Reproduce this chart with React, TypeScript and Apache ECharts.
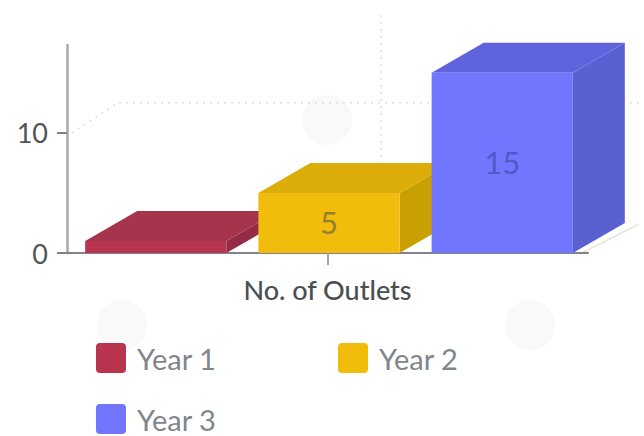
import React, { useEffect, useRef } from "react";
import * as echarts from "echarts";

const categories = ["No. of Outlets"];
const seriesNames = ["Year 1", "Year 2", "Year 3"];
const year1 = [1];
const year2 = [5];
const year3 = [15];
const seriesValues = [year1, year2, year3];
const yTicks = [0, 10];
const wallLevels = [10];

const frontColors = ["#b9354f", "#f2bc0c", "#7276ff"];
const topColors = ["#a6344d", "#dcac08", "#5f63dc"];
const sideColors = ["#952a44", "#c9a004", "#5a5fd2"];
const labelColors = ["#6d3040", "#97802f", "#5558c4"];

const DEPTH_X = 52;
const DEPTH_Y = -30;
const BAR_FRACTION = 0.271;
const STEP_FRACTION = 0.3325;
const AXIS_MAX = 17.3;

// Extruded bar: front face plus top and side planes, offset by the floor depth.
const boxRenderer = (index: number, showLabel: boolean) => (params: any, api: any) => {
  const base = api.coord([api.value(0), 0]);
  const tip = api.coord([api.value(0), api.value(1)]);
  const band = api.size([1, 0])[0];
  const w = band * BAR_FRACTION;
  const x0 = base[0] + (index - 1) * band * STEP_FRACTION - w / 2 + 1.5;
  const x1 = x0 + w;
  const yb = base[1];
  const yt = tip[1];
  const children: any[] = [
    {
      type: "polygon",
      shape: { points: [[x1, yb], [x1 + DEPTH_X, yb + DEPTH_Y], [x1 + DEPTH_X, yt + DEPTH_Y], [x1, yt]] },
      style: { fill: sideColors[index] },
    },
    {
      type: "polygon",
      shape: { points: [[x0, yt], [x0 + DEPTH_X, yt + DEPTH_Y], [x1 + DEPTH_X, yt + DEPTH_Y], [x1, yt]] },
      style: { fill: topColors[index] },
    },
    { type: "rect", shape: { x: x0, y: yt, width: w, height: yb - yt }, style: { fill: frontColors[index] } },
  ];
  if (showLabel) {
    children.push({
      type: "text",
      style: {
        x: (x0 + x1) / 2,
        y: (yt + yb) / 2 - 1,
        text: String(api.value(1)),
        align: "center",
        verticalAlign: "middle",
        fill: labelColors[index],
        font: '31px Lato, "Noto Sans", sans-serif',
      },
    });
  }
  return { type: "group", children };
};

// Dotted back wall and pale floor edge of the 3D plot box.
const wallRenderer = (params: any, api: any) => {
  const level = api.coord([0, api.value(1)]);
  const origin = api.coord([0, 0]);
  const band = api.size([1, 0])[0];
  const left = origin[0] - band / 2;
  const right = origin[0] + band / 2;
  const dotted = { stroke: "#dcdcdc", lineWidth: 1.5, lineDash: [2, 5], fill: "none" };
  return {
    type: "group",
    children: [
      {
        type: "polyline",
        shape: { points: [[left + 5, level[1]], [left + DEPTH_X - 1, level[1] + DEPTH_Y], [644, level[1] + DEPTH_Y]] },
        style: dotted,
      },
      { type: "line", shape: { x1: 381, y1: 15, x2: 381, y2: 165 }, style: dotted },
      {
        type: "line",
        shape: { x1: right - 6, y1: origin[1], x2: right + DEPTH_X - 1, y2: origin[1] + DEPTH_Y + 1 },
        style: { stroke: "#e6e6da", lineWidth: 1.5 },
      },
    ],
  };
};

const legendSlots = [
  { left: 96, top: 343 },
  { left: 338, top: 343 },
  { left: 96, top: 404 },
];

export default function App() {
  const ref = useRef<HTMLDivElement>(null);

  useEffect(() => {
    const chart = echarts.init(ref.current!, undefined, { renderer: "svg" });
    chart.setOption({
      animation: false,
      backgroundColor: "#ffffff",
      textStyle: { fontFamily: 'Lato, "Noto Sans", sans-serif' },
      grid: { left: 67, right: 56, top: 45, bottom: 183, containLabel: false },
      graphic: [
        { type: "circle", z: -1, shape: { cx: 327, cy: 120, r: 25 }, style: { fill: "#f9f9f9" } },
        { type: "circle", z: -1, shape: { cx: 122, cy: 325, r: 25 }, style: { fill: "#f9f9f9" } },
        { type: "circle", z: -1, shape: { cx: 530, cy: 325, r: 25 }, style: { fill: "#f9f9f9" } },
      ],
      legend: seriesNames.map((name, i) => ({
        left: legendSlots[i].left,
        top: legendSlots[i].top,
        padding: 0,
        itemWidth: 30,
        itemHeight: 30,
        itemGap: 0,
        icon: "path://M4 0H26A4 4 0 0 1 30 4V26A4 4 0 0 1 26 30H4A4 4 0 0 1 0 26V4A4 4 0 0 1 4 0Z",
        selectedMode: false,
        data: [{ name, itemStyle: { color: frontColors[i] } }],
        textStyle: { fontSize: 29, lineHeight: 28, color: "#7f868c", fontFamily: "Lato", padding: [0, 0, 0, 6] },
      })),
      xAxis: {
        type: "category",
        data: categories,
        axisLine: { show: true, lineStyle: { color: "#808488", width: 2 } },
        axisTick: { show: true, alignWithLabel: true, length: 12, lineStyle: { color: "#a4a4a4", width: 2 } },
        axisLabel: { fontSize: 27, color: "#4a4f54", fontWeight: 500, margin: 23, fontFamily: "Lato" },
      },
      yAxis: {
        type: "value",
        min: 0,
        max: AXIS_MAX,
        interval: 10,
        splitLine: { show: false },
        axisLine: { show: true, lineStyle: { color: "#a8a8a8", width: 2.5 } },
        axisTick: { show: true, length: 10, customValues: yTicks, lineStyle: { color: "#808488", width: 2 } },
        axisLabel: { fontSize: 27, color: "#4f5459", margin: 19, customValues: yTicks, fontFamily: "Lato" },
      },
      series: [
        {
          type: "custom",
          name: "wall",
          silent: true,
          clip: false,
          z: 0,
          renderItem: wallRenderer,
          data: wallLevels.map((v) => [0, v]),
        },
        ...seriesNames.map((name, i) => ({
          type: "custom",
          name,
          clip: false,
          z: 2,
          itemStyle: { color: frontColors[i] },
          renderItem: boxRenderer(i, seriesValues[i][0] >= 5),
          encode: { x: 0, y: 1 },
          data: seriesValues[i].map((v, c) => [c, v]),
        })),
      ],
    });
    return () => chart.dispose();
  }, []);

  return <div ref={ref} style={{ position: "fixed", left: 0, top: 0, width: 644, height: 436 }} />;
}
